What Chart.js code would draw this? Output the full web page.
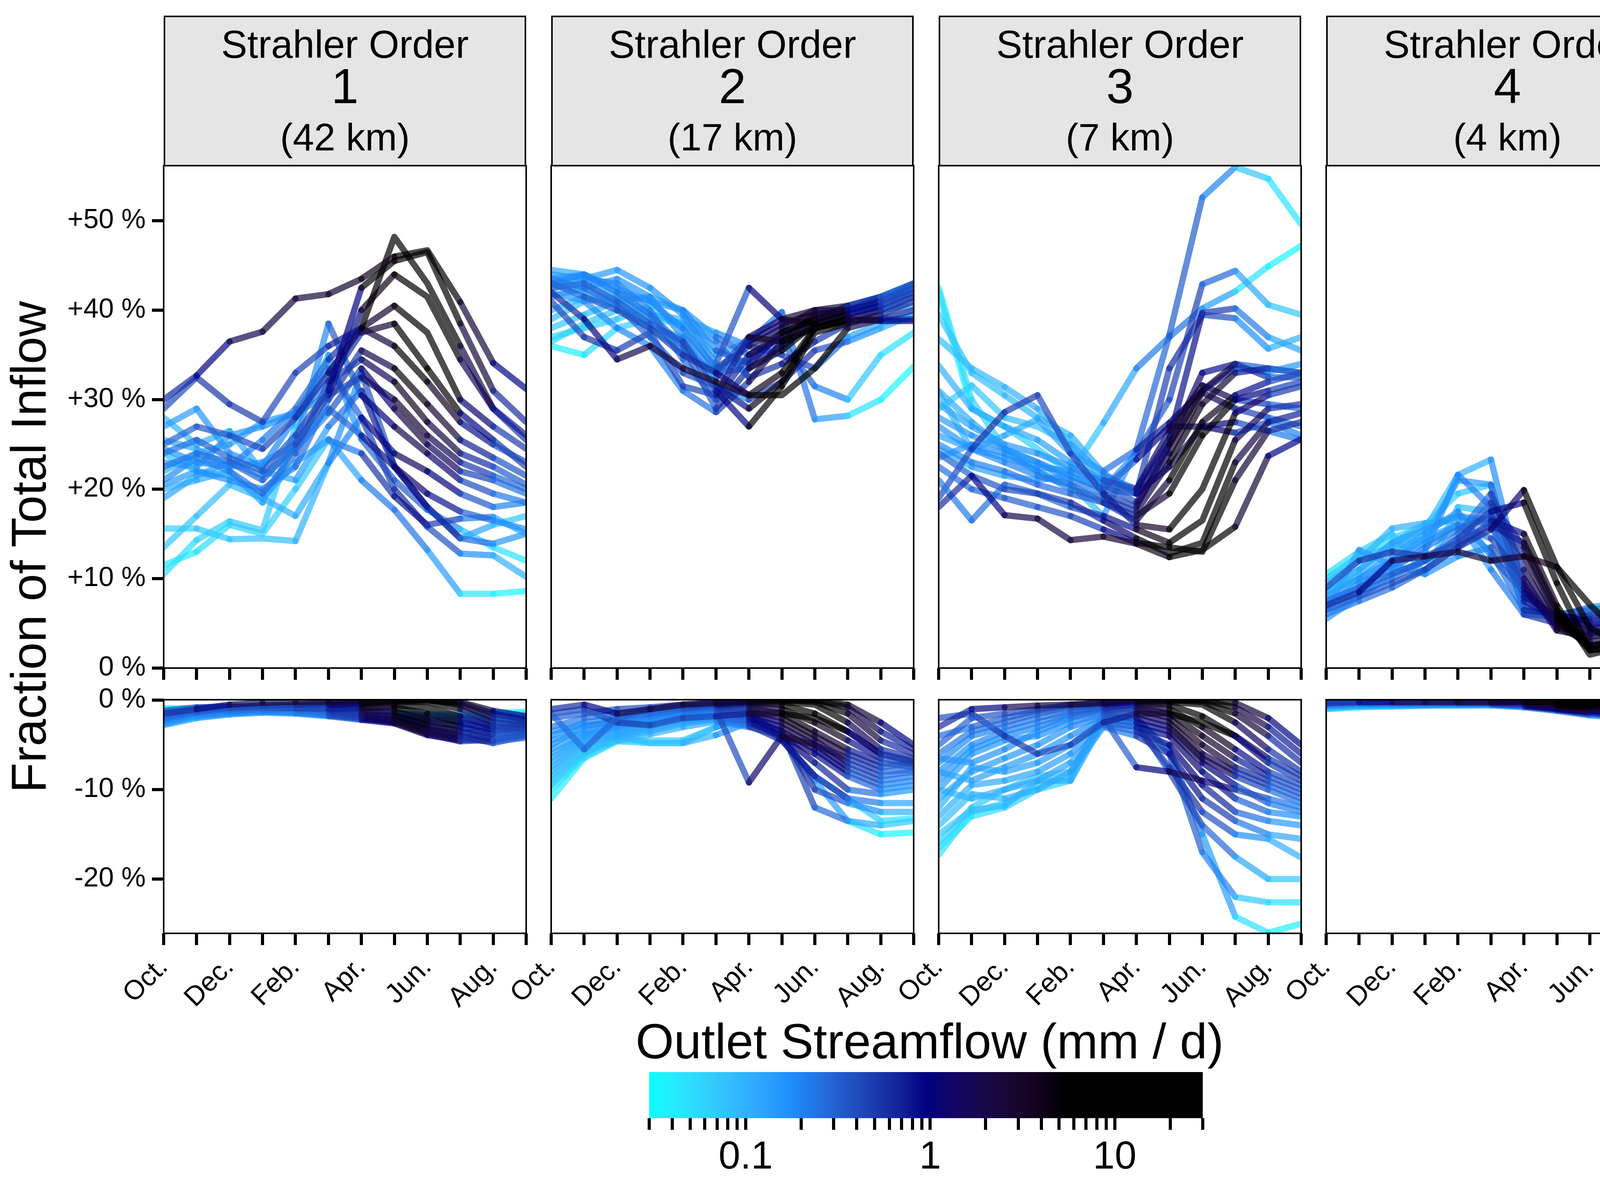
<!DOCTYPE html>
<html>
<head>
<meta charset="utf-8">
<title>Fraction of Total Inflow by Strahler Order</title>
<script src="https://cdn.jsdelivr.net/npm/chart.js"></script>
<style>
  html, body { margin: 0; padding: 0; background: #fff; }
  body { width: 4517px; height: 3028px; position: relative; overflow: hidden;
         font-family: "Liberation Sans", Arial, Helvetica, sans-serif; color: #000; }
  canvas { position: absolute; }
  .strip { position: absolute; box-sizing: border-box; background: #e5e5e5; border: 4px solid #000; }
  .strip span { position: absolute; left: 0; right: 0; text-align: center; white-space: nowrap; }
  .side { position: absolute; box-sizing: border-box; background: #e5e5e5; border: 4px solid #000;
          display: flex; align-items: center; justify-content: center; }
  .side span { writing-mode: vertical-rl; font-size: 126px; line-height: 1; white-space: nowrap; }
  .title { position: absolute; white-space: nowrap; line-height: 1; }
</style>
</head>
<body>
<div class="title" id="ytitle" style="font-size:126px;">Fraction of Total Inflow</div>
<div class="title" id="ctitle" style="font-size:126px;">Outlet Streamflow (mm / d)</div>
<script>
// ---- data -------------------------------------------------------------
const months = ['Oct', 'Nov', 'Dec', 'Jan', 'Feb', 'Mar', 'Apr', 'May', 'Jun', 'Jul', 'Aug', 'Sep'];
const monthTickLabels = ['Oct.', '', 'Dec.', '', 'Feb.', '', 'Apr.', '', 'Jun.', '', 'Aug.', ''];
const strahlerOrders = ['1', '2', '3', '4'];
const orderLengths = ['(42 km)', '(17 km)', '(7 km)', '(4 km)'];
const rowNames = ['Inflow', 'Recharge'];

// outlet streamflow (mm/d) per year and month, colours the line segments
const outletFlow = [
  [0.60, 0.90, 1.80, 2.20, 2.50, 3.00, 4.00, 9.00, 14.0, 2.50, 0.90, 0.60],
  [0.30, 0.35, 0.40, 0.45, 0.60, 1.20, 7.00, 24.0, 20.0, 2.00, 0.70, 0.45],
  [0.25, 0.30, 0.32, 0.35, 0.45, 0.90, 5.00, 20.0, 24.0, 2.50, 0.60, 0.38],
  [0.22, 0.25, 0.28, 0.30, 0.40, 0.80, 4.00, 14.0, 12.0, 1.50, 0.55, 0.33],
  [0.40, 0.55, 0.50, 0.42, 0.45, 0.70, 3.00, 10.0, 7.00, 1.20, 0.50, 0.30],
  [0.18, 0.20, 0.24, 0.26, 0.32, 0.60, 2.50, 8.00, 5.00, 0.90, 0.45, 0.27],
  [0.16, 0.18, 0.20, 0.22, 0.28, 0.55, 2.20, 6.00, 3.50, 0.80, 0.40, 0.24],
  [0.15, 0.17, 0.19, 0.20, 0.25, 0.50, 1.80, 4.50, 2.80, 0.70, 0.36, 0.22],
  [0.14, 0.16, 0.17, 0.18, 0.22, 0.45, 1.50, 3.50, 2.20, 0.60, 0.32, 0.20],
  [0.13, 0.15, 0.16, 0.17, 0.20, 0.40, 1.30, 2.80, 1.80, 0.50, 0.28, 0.18],
  [0.12, 0.14, 0.15, 0.16, 0.19, 0.36, 1.10, 2.20, 1.50, 0.45, 0.25, 0.16],
  [0.11, 0.13, 0.14, 0.15, 0.18, 0.33, 1.00, 1.80, 1.20, 0.40, 0.22, 0.15],
  [0.10, 0.12, 0.13, 0.14, 0.16, 0.30, 0.90, 1.50, 1.00, 0.35, 0.20, 0.13],
  [0.10, 0.11, 0.12, 0.13, 0.15, 0.28, 0.80, 1.20, 0.80, 0.30, 0.17, 0.12],
  [0.09, 0.10, 0.11, 0.12, 0.14, 0.25, 0.70, 1.00, 0.65, 0.26, 0.15, 0.10],
  [0.08, 0.09, 0.10, 0.11, 0.13, 0.22, 0.55, 0.80, 0.50, 0.22, 0.12, 0.09],
  [0.07, 0.08, 0.09, 0.10, 0.11, 0.20, 0.45, 0.60, 0.38, 0.17, 0.10, 0.075],
  [0.06, 0.07, 0.08, 0.08, 0.10, 0.17, 0.35, 0.45, 0.28, 0.12, 0.07, 0.055],
  [0.05, 0.06, 0.07, 0.07, 0.08, 0.15, 0.28, 0.32, 0.20, 0.07, 0.045, 0.04],
  [0.04, 0.05, 0.06, 0.06, 0.07, 0.12, 0.22, 0.24, 0.14, 0.045, 0.035, 0.032]
];

// fraction of total inflow (%), one row per year
const inflowOrder1 = [
  [30.0, 32.7, 36.5, 37.6, 41.3, 41.8, 43.5, 46.0, 46.7, 40.9, 34.1, 31.2],
  [25.0, 27.0, 26.0, 24.5, 28.0, 33.0, 38.0, 48.2, 43.0, 36.0, 29.0, 26.0],
  [24.0, 25.5, 23.5, 22.0, 26.0, 31.0, 42.5, 45.5, 46.5, 38.5, 31.0, 27.5],
  [22.5, 24.0, 23.0, 21.0, 25.0, 30.5, 40.0, 44.0, 41.5, 34.5, 29.0, 25.5],
  [29.0, 32.5, 29.5, 27.5, 33.0, 36.0, 38.0, 40.5, 37.5, 30.0, 27.0, 24.5],
  [21.0, 23.5, 22.0, 19.5, 24.0, 32.0, 37.5, 38.5, 33.5, 28.5, 25.5, 22.5],
  [24.5, 23.0, 22.5, 25.5, 29.0, 34.5, 38.0, 36.0, 32.0, 27.5, 25.0, 23.0],
  [20.5, 22.0, 21.0, 20.0, 22.5, 30.0, 35.5, 33.5, 29.5, 25.5, 23.5, 21.5],
  [27.0, 29.0, 24.0, 22.5, 28.0, 32.0, 34.5, 32.0, 27.5, 24.0, 22.5, 20.5],
  [23.0, 22.5, 26.0, 27.0, 28.5, 30.5, 32.5, 30.0, 26.0, 23.0, 21.5, 20.0],
  [19.0, 21.5, 23.0, 21.5, 24.5, 28.5, 33.5, 29.0, 25.0, 22.0, 21.0, 19.5],
  [25.5, 24.5, 22.5, 23.0, 25.0, 38.5, 30.5, 27.0, 24.0, 21.0, 19.5, 18.5],
  [22.0, 24.0, 25.0, 27.5, 28.5, 33.5, 28.0, 24.0, 22.0, 19.5, 18.0, 18.5],
  [20.0, 21.0, 22.0, 18.5, 25.0, 29.0, 26.0, 22.5, 19.5, 17.5, 16.5, 15.5],
  [28.0, 25.0, 26.5, 22.0, 21.0, 27.0, 31.0, 22.5, 18.0, 14.5, 13.9, 15.0],
  [24.0, 22.0, 21.5, 19.0, 23.0, 25.5, 24.0, 19.2, 16.0, 16.7, 16.9, 15.0],
  [13.5, 17.0, 20.5, 19.0, 17.0, 22.9, 28.0, 20.0, 15.8, 12.8, 12.6, 10.2],
  [15.6, 15.6, 14.4, 14.5, 14.2, 22.9, 33.0, 22.6, 18.0, 14.5, 16.0, 17.0],
  [10.5, 14.3, 16.4, 15.4, 27.0, 35.0, 25.6, 21.0, 17.7, 15.5, 13.5, 12.0],
  [11.5, 13.0, 16.0, 15.0, 20.0, 25.6, 21.0, 17.7, 13.2, 8.3, 8.3, 8.6]
];
const inflowOrder2 = [
  [42.0, 39.0, 34.5, 36.0, 33.5, 32.0, 30.5, 33.0, 38.0, 39.0, 38.8, 38.8],
  [43.0, 41.5, 40.0, 38.0, 35.0, 33.0, 30.5, 30.5, 33.5, 38.0, 39.0, 40.0],
  [42.5, 43.0, 41.0, 38.5, 36.5, 31.0, 27.0, 31.5, 37.5, 38.5, 39.5, 41.0],
  [43.5, 42.5, 40.5, 37.0, 33.0, 31.5, 29.0, 32.0, 38.0, 39.0, 40.0, 41.5],
  [41.0, 37.0, 35.5, 37.5, 31.5, 30.5, 37.0, 36.5, 38.0, 38.8, 39.0, 39.0],
  [43.0, 44.0, 42.0, 39.5, 36.0, 29.0, 33.5, 35.5, 38.5, 39.5, 40.5, 42.0],
  [44.0, 43.5, 43.0, 40.0, 34.5, 30.0, 35.0, 37.5, 39.0, 40.0, 41.0, 42.5],
  [42.0, 41.0, 38.0, 36.0, 31.0, 28.6, 32.0, 36.5, 39.5, 40.0, 41.0, 43.0],
  [43.5, 44.0, 42.5, 41.0, 38.0, 33.5, 36.0, 38.0, 40.0, 40.5, 41.5, 43.0],
  [41.5, 42.5, 43.5, 41.5, 37.0, 33.0, 37.0, 39.0, 40.0, 40.0, 41.0, 42.0],
  [43.0, 43.5, 44.5, 42.5, 39.5, 34.0, 42.5, 39.0, 38.5, 39.5, 40.5, 42.5],
  [44.5, 44.0, 42.0, 41.0, 40.0, 35.5, 34.0, 37.5, 39.0, 40.0, 41.5, 43.0],
  [42.5, 43.0, 41.5, 39.0, 36.0, 32.5, 36.5, 38.5, 39.5, 40.0, 41.5, 42.5],
  [43.0, 42.0, 41.0, 41.5, 40.0, 37.0, 35.0, 37.0, 39.0, 40.5, 41.5, 43.0],
  [40.0, 41.5, 40.5, 38.0, 35.5, 33.0, 33.5, 36.0, 38.5, 39.5, 40.5, 41.5],
  [39.0, 41.0, 41.5, 39.5, 38.5, 36.5, 32.5, 34.0, 36.5, 38.5, 40.0, 40.5],
  [38.0, 39.5, 41.0, 38.0, 37.0, 31.5, 30.0, 32.0, 35.5, 36.5, 38.0, 39.5],
  [36.5, 38.5, 40.0, 39.5, 39.0, 37.5, 36.0, 35.0, 33.5, 37.0, 38.5, 39.5],
  [37.0, 38.0, 39.0, 40.5, 38.0, 33.5, 34.5, 36.5, 31.5, 30.0, 35.0, 37.5],
  [36.0, 35.0, 38.0, 39.0, 38.5, 35.0, 36.5, 39.8, 27.8, 28.2, 30.0, 33.7]
];
const inflowOrder3 = [
  [18.0, 21.5, 17.1, 16.7, 14.3, 14.7, 13.9, 12.4, 13.2, 15.8, 23.7, 25.6],
  [24.0, 21.5, 20.0, 19.5, 18.5, 16.5, 14.5, 12.8, 14.0, 23.0, 27.5, 28.5],
  [22.5, 20.0, 19.0, 18.0, 17.0, 15.5, 14.0, 13.5, 13.0, 21.0, 26.5, 27.5],
  [21.0, 16.5, 20.5, 19.5, 18.0, 17.0, 15.5, 14.0, 16.5, 25.5, 29.0, 29.5],
  [19.0, 24.5, 28.6, 30.5, 24.0, 19.5, 16.0, 15.5, 20.0, 28.5, 30.5, 31.5],
  [25.0, 23.0, 22.0, 20.5, 19.5, 18.5, 17.0, 19.5, 26.0, 30.0, 31.0, 32.0],
  [27.0, 24.5, 23.0, 21.5, 20.5, 18.5, 16.5, 21.0, 27.5, 30.5, 32.0, 33.0],
  [23.5, 25.0, 24.0, 22.0, 20.0, 19.0, 17.5, 23.0, 29.5, 33.0, 33.5, 33.0],
  [28.0, 26.0, 24.5, 23.0, 21.0, 19.5, 18.0, 25.0, 31.0, 34.0, 32.5, 32.5],
  [26.0, 24.5, 23.5, 22.5, 22.0, 21.0, 20.0, 26.5, 31.6, 30.0, 29.5, 29.0],
  [29.5, 27.0, 25.0, 24.0, 22.5, 20.5, 18.5, 24.0, 30.8, 29.0, 28.0, 27.0],
  [24.5, 22.5, 21.5, 21.0, 21.5, 20.0, 19.5, 22.5, 27.0, 27.5, 26.5, 25.5],
  [31.0, 27.5, 24.5, 23.0, 21.5, 20.0, 23.3, 27.0, 27.0, 26.3, 27.5, 26.0],
  [33.8, 29.0, 27.0, 25.5, 23.0, 21.0, 19.5, 25.0, 33.0, 34.0, 33.5, 33.0],
  [30.8, 24.4, 26.0, 27.8, 24.0, 22.0, 24.4, 27.4, 31.0, 33.5, 33.1, 34.0],
  [36.8, 33.5, 31.4, 29.0, 25.0, 21.5, 20.0, 25.6, 39.7, 40.2, 37.0, 35.5],
  [39.5, 33.0, 30.5, 28.0, 26.0, 21.8, 19.5, 33.5, 39.5, 39.1, 35.7, 37.0],
  [29.0, 31.6, 28.0, 27.0, 25.0, 20.0, 24.0, 30.0, 42.9, 44.4, 40.6, 39.5],
  [42.5, 30.0, 24.5, 22.0, 20.5, 17.0, 24.4, 37.2, 52.6, 56.0, 54.7, 49.6],
  [42.0, 29.0, 27.0, 24.5, 21.8, 27.4, 33.5, 37.0, 40.2, 42.1, 44.9, 47.2]
];
const inflowOrder4 = [
  [7.0, 8.5, 12.0, 12.5, 13.0, 12.0, 12.5, 11.3, 4.5, 2.5, 3.0, 4.0],
  [6.5, 8.0, 9.5, 11.0, 13.5, 15.5, 19.9, 11.3, 7.1, 3.5, 3.2, 3.8],
  [7.5, 9.0, 10.5, 12.0, 14.5, 17.5, 18.5, 9.5, 2.0, 2.2, 2.8, 3.8],
  [6.0, 7.5, 9.0, 11.0, 13.5, 16.5, 15.0, 7.0, 1.5, 2.4, 3.0, 3.5],
  [9.0, 12.0, 13.0, 12.5, 14.0, 16.0, 14.0, 6.5, 2.5, 2.8, 3.5, 4.5],
  [6.5, 8.5, 10.0, 12.0, 14.0, 18.5, 13.5, 6.0, 2.0, 2.6, 3.3, 4.2],
  [7.0, 9.5, 11.0, 13.5, 15.5, 17.0, 12.5, 5.5, 2.3, 3.0, 3.6, 4.6],
  [5.5, 8.0, 10.5, 12.0, 15.0, 19.5, 11.0, 5.0, 2.5, 3.2, 4.0, 5.0],
  [8.0, 10.0, 12.0, 14.0, 16.0, 14.5, 10.0, 4.5, 3.0, 3.5, 4.3, 5.3],
  [7.5, 9.0, 11.5, 13.0, 21.6, 18.0, 9.5, 4.2, 3.5, 4.0, 4.6, 5.6],
  [6.5, 13.2, 11.5, 10.5, 12.5, 13.5, 9.0, 4.8, 3.8, 4.3, 5.0, 5.8],
  [8.5, 10.0, 12.5, 15.0, 17.5, 12.5, 8.5, 5.5, 4.0, 4.5, 5.2, 6.0],
  [9.0, 11.0, 14.0, 15.5, 17.0, 16.0, 8.0, 5.8, 4.5, 4.9, 5.5, 6.3],
  [7.0, 9.0, 12.0, 14.5, 21.0, 20.5, 7.5, 5.5, 4.8, 5.3, 5.8, 6.5],
  [8.0, 10.5, 13.5, 14.5, 16.0, 13.0, 6.5, 6.0, 5.2, 5.7, 6.2, 6.8],
  [9.5, 12.0, 15.6, 16.2, 16.5, 11.0, 6.0, 5.0, 5.5, 6.0, 6.5, 7.0],
  [8.5, 11.0, 14.0, 16.0, 17.0, 16.5, 7.0, 5.5, 5.8, 6.4, 6.9, 7.4],
  [10.0, 12.5, 13.5, 15.5, 21.6, 23.3, 8.5, 5.2, 6.0, 6.7, 7.2, 7.6],
  [10.5, 13.0, 15.0, 10.5, 18.0, 17.5, 6.5, 6.0, 6.5, 7.1, 7.4, 7.9],
  [10.0, 12.0, 14.5, 16.0, 19.5, 20.5, 6.0, 5.8, 6.8, 7.3, 7.6, 8.2]
];
const rechargeOrder1 = [
  [-1.5, -1.0, -0.5, -0.3, -0.2, -0.2, -0.1, 0.0, 0.0, -0.2, -1.2, -1.8],
  [-1.8, -1.2, -0.8, -0.6, -0.5, -0.3, -0.2, 0.0, 0.0, -0.3, -1.5, -2.2],
  [-2.0, -1.3, -0.9, -0.7, -0.6, -0.5, -0.3, -0.1, 0.0, -0.5, -2.0, -2.5],
  [-2.2, -1.4, -1.0, -0.8, -0.7, -0.6, -0.5, -0.2, -0.2, -1.0, -2.5, -2.8],
  [-1.2, -0.8, -0.7, -0.8, -0.9, -1.0, -0.9, -0.6, -0.8, -1.8, -3.0, -3.0],
  [-2.4, -1.5, -1.2, -1.0, -0.9, -0.9, -0.9, -0.8, -1.5, -2.5, -3.3, -3.2],
  [-2.3, -1.6, -1.3, -1.1, -1.0, -1.1, -1.2, -1.3, -2.2, -3.0, -3.8, -3.5],
  [-2.6, -1.7, -1.2, -1.1, -1.2, -1.3, -1.6, -1.8, -2.8, -3.5, -4.5, -3.8],
  [-2.5, -1.8, -1.4, -1.2, -1.3, -1.5, -1.8, -2.2, -3.3, -4.0, -4.8, -4.0],
  [-2.7, -1.9, -1.5, -1.3, -1.4, -1.7, -2.0, -2.4, -3.6, -4.4, -4.6, -4.2],
  [-2.2, -1.6, -1.3, -1.2, -1.3, -1.6, -2.0, -2.5, -3.8, -4.6, -4.4, -3.9],
  [-2.8, -2.0, -1.6, -1.4, -1.5, -1.8, -2.2, -2.6, -3.9, -4.5, -4.0, -3.6],
  [-2.4, -1.8, -1.5, -1.3, -1.4, -1.7, -2.1, -2.4, -3.5, -4.2, -3.6, -3.3],
  [-2.0, -1.7, -1.3, -1.2, -1.3, -1.6, -2.0, -2.3, -3.2, -3.8, -3.2, -3.0],
  [-1.8, -1.5, -1.2, -1.1, -1.2, -1.5, -1.9, -2.2, -2.9, -3.3, -2.8, -2.7],
  [-1.5, -1.4, -1.1, -1.0, -1.1, -1.4, -1.8, -2.0, -2.5, -2.8, -2.4, -2.3],
  [-1.4, -1.3, -1.0, -0.9, -1.0, -1.3, -1.6, -1.8, -2.2, -2.4, -2.1, -2.0],
  [-1.2, -1.1, -0.9, -0.8, -0.9, -1.2, -1.5, -1.7, -2.0, -2.1, -1.8, -1.8],
  [-1.0, -1.0, -0.8, -0.7, -0.8, -1.1, -1.4, -1.5, -1.8, -1.8, -1.6, -1.5],
  [-0.9, -0.9, -0.7, -0.6, -0.7, -1.0, -1.3, -1.4, -1.6, -1.6, -1.4, -1.3]
];
const rechargeOrder2 = [
  [-1.0, -0.5, -1.5, -1.0, -0.5, -0.3, -0.2, 0.0, 0.0, -0.5, -2.5, -5.0],
  [-2.0, -1.5, -1.0, -0.8, -0.5, -0.3, 0.0, 0.0, 0.0, -0.8, -3.5, -5.5],
  [-1.5, -5.5, -2.0, -1.0, -0.6, -0.4, -0.1, 0.0, -0.2, -1.5, -4.5, -6.0],
  [-3.0, -2.0, -1.5, -1.2, -0.8, -0.5, -0.3, -0.2, -0.5, -2.5, -5.5, -6.5],
  [-1.5, -1.0, -2.5, -2.8, -2.0, -1.8, -1.5, -1.5, -2.0, -3.5, -6.0, -6.8],
  [-4.0, -2.5, -2.0, -1.5, -1.0, -0.6, -0.4, -0.5, -1.5, -3.5, -6.0, -7.0],
  [-5.0, -3.0, -2.2, -1.6, -1.0, -0.7, -0.6, -1.0, -2.5, -4.5, -6.5, -7.2],
  [-3.5, -2.8, -2.5, -1.8, -1.2, -0.8, -0.9, -1.5, -3.5, -5.5, -7.0, -7.5],
  [-4.5, -3.5, -2.6, -2.0, -1.3, -1.0, -1.2, -2.0, -4.0, -6.0, -7.5, -7.0],
  [-5.5, -3.8, -2.8, -2.1, -1.5, -1.1, -9.2, -4.0, -5.0, -6.5, -8.0, -7.8],
  [-6.0, -4.0, -3.0, -2.3, -1.6, -1.2, -1.5, -2.5, -4.5, -7.0, -8.5, -8.0],
  [-6.5, -4.2, -3.2, -2.5, -1.8, -1.4, -1.8, -3.0, -5.0, -7.5, -9.0, -8.5],
  [-7.0, -4.5, -3.5, -2.8, -2.0, -1.5, -2.0, -3.5, -5.5, -8.0, -9.5, -9.0],
  [-7.5, -4.8, -3.8, -3.0, -2.2, -1.8, -2.3, -4.0, -6.0, -8.5, -10.0, -9.5],
  [-8.0, -5.0, -4.0, -3.2, -2.4, -2.0, -2.5, -4.0, -7.0, -10.0, -10.5, -10.0],
  [-8.5, -5.5, -4.2, -3.5, -2.6, -2.2, -2.8, -4.5, -8.5, -11.0, -11.5, -11.5],
  [-9.0, -5.8, -4.5, -3.8, -3.0, -2.4, -3.0, -4.0, -10.0, -11.5, -12.5, -12.5],
  [-9.5, -6.0, -4.0, -4.8, -4.8, -3.9, -2.5, -3.5, -12.0, -13.5, -14.0, -13.5],
  [-10.0, -6.3, -4.5, -4.5, -4.5, -3.0, -2.0, -4.5, -8.5, -11.0, -13.5, -13.2],
  [-11.0, -6.5, -4.6, -4.8, -4.8, -3.0, -1.5, -4.0, -9.0, -13.5, -15.0, -14.8]
];
const rechargeOrder3 = [
  [-3.0, -1.0, -0.8, -0.6, -0.5, -0.3, 0.0, 0.0, 0.0, -0.3, -2.0, -5.0],
  [-5.0, -2.0, -1.5, -1.0, -0.5, -0.3, 0.0, 0.0, 0.0, -0.8, -3.0, -6.0],
  [-4.0, -3.0, -2.0, -1.2, -0.6, -0.4, -0.1, 0.0, -0.2, -1.5, -4.0, -7.0],
  [-6.0, -3.5, -2.5, -1.5, -0.8, -0.5, -0.2, -0.2, -0.5, -2.5, -5.5, -8.0],
  [-2.0, -1.5, -4.0, -6.0, -5.0, -2.5, -1.5, -1.5, -2.5, -4.0, -6.5, -8.5],
  [-7.0, -4.0, -3.0, -2.0, -1.2, -0.8, -0.4, -0.5, -1.8, -4.0, -7.0, -9.0],
  [-8.0, -5.0, -3.5, -2.5, -1.5, -0.9, -0.5, -1.0, -3.0, -5.5, -8.0, -9.5],
  [-9.0, -5.5, -4.0, -3.0, -1.8, -1.0, -0.8, -1.5, -4.0, -6.5, -8.5, -10.0],
  [-6.5, -7.0, -5.5, -3.5, -2.0, -1.2, -1.0, -2.0, -5.0, -7.5, -9.0, -10.5],
  [-10.0, -6.0, -4.5, -4.0, -2.5, -1.5, -1.5, -2.5, -6.0, -8.0, -9.5, -11.0],
  [-11.0, -8.0, -6.5, -5.0, -3.0, -1.8, -2.0, -3.0, -6.5, -8.5, -10.0, -11.5],
  [-8.0, -9.0, -7.5, -6.0, -4.0, -2.0, -7.5, -8.0, -9.0, -10.0, -11.0, -12.0],
  [-12.0, -7.5, -8.0, -7.0, -5.0, -2.2, -2.5, -3.5, -7.0, -9.5, -11.5, -12.5],
  [-13.0, -9.5, -9.0, -8.0, -6.0, -2.5, -3.0, -4.0, -8.0, -11.0, -12.5, -13.0],
  [-10.0, -11.0, -10.0, -9.0, -7.0, -2.8, -3.5, -5.0, -9.5, -12.5, -13.5, -14.0],
  [-14.0, -10.5, -11.0, -10.0, -8.0, -3.0, -4.0, -6.0, -11.0, -13.5, -15.0, -15.5],
  [-15.0, -12.3, -11.8, -9.0, -9.0, -2.5, -3.0, -7.5, -12.5, -15.0, -15.5, -17.6],
  [-16.0, -12.0, -10.0, -8.5, -8.0, -2.0, -2.5, -8.0, -14.0, -17.5, -20.0, -20.0],
  [-17.3, -12.5, -11.5, -9.5, -8.5, -1.5, -2.0, -6.0, -17.0, -22.0, -22.6, -22.6],
  [-16.5, -13.0, -12.0, -10.0, -9.0, -1.8, -2.2, -5.5, -15.0, -24.2, -26.0, -25.0]
];
const rechargeOrder4 = [
  [-0.3, -0.2, -0.2, -0.2, -0.2, -0.2, -0.1, 0.0, 0.0, -0.1, -0.3, -0.4],
  [-0.4, -0.3, -0.2, -0.2, -0.2, -0.2, -0.1, -0.1, -0.1, -0.3, -0.5, -0.5],
  [-0.4, -0.3, -0.3, -0.2, -0.2, -0.2, -0.2, -0.1, -0.2, -0.4, -0.6, -0.6],
  [-0.5, -0.3, -0.3, -0.3, -0.2, -0.2, -0.2, -0.2, -0.3, -0.5, -0.6, -0.7],
  [-0.3, -0.3, -0.3, -0.3, -0.3, -0.3, -0.3, -0.3, -0.4, -0.6, -0.7, -0.7],
  [-0.5, -0.4, -0.3, -0.3, -0.3, -0.3, -0.3, -0.4, -0.6, -0.7, -0.8, -0.8],
  [-0.5, -0.4, -0.4, -0.3, -0.3, -0.3, -0.3, -0.5, -0.7, -0.8, -0.9, -0.9],
  [-0.6, -0.4, -0.4, -0.4, -0.3, -0.3, -0.4, -0.6, -0.8, -0.9, -1.0, -1.0],
  [-0.6, -0.5, -0.4, -0.4, -0.4, -0.4, -0.4, -0.7, -0.9, -1.0, -1.0, -1.0],
  [-0.6, -0.5, -0.4, -0.4, -0.4, -0.4, -0.5, -0.7, -1.0, -1.1, -1.1, -1.1],
  [-0.7, -0.5, -0.5, -0.4, -0.4, -0.4, -0.5, -0.8, -1.0, -1.2, -1.2, -1.1],
  [-0.7, -0.5, -0.5, -0.5, -0.4, -0.4, -0.5, -0.8, -1.1, -1.3, -1.3, -1.2],
  [-0.7, -0.6, -0.5, -0.5, -0.4, -0.4, -0.6, -0.9, -1.2, -1.4, -1.4, -1.3],
  [-0.8, -0.6, -0.5, -0.5, -0.5, -0.5, -0.6, -0.9, -1.2, -1.5, -1.5, -1.4],
  [-0.8, -0.6, -0.6, -0.5, -0.5, -0.5, -0.6, -1.0, -1.3, -1.6, -1.6, -1.5],
  [-0.8, -0.6, -0.6, -0.5, -0.5, -0.5, -0.6, -1.0, -1.4, -1.7, -1.7, -1.6],
  [-0.9, -0.7, -0.6, -0.6, -0.5, -0.5, -0.7, -1.0, -1.4, -1.8, -1.8, -1.7],
  [-0.9, -0.7, -0.6, -0.6, -0.5, -0.5, -0.7, -1.1, -1.5, -1.9, -1.9, -1.8],
  [-1.0, -0.7, -0.7, -0.6, -0.6, -0.5, -0.7, -1.1, -1.6, -1.9, -2.0, -1.9],
  [-1.0, -0.8, -0.7, -0.6, -0.6, -0.6, -0.8, -1.2, -1.7, -2.0, -2.0, -1.9]
];

// colour scale for the outlet streamflow
const colourFlows = [0.03, 0.17, 0.95, 5.3, 30];
const colourHexes = ['#00ffff', '#1e90ff', '#000080', '#000000', '#000000'];
const colourbarTicks = [0.03, 0.04, 0.05, 0.06, 0.07, 0.08, 0.09, 0.1, 0.2, 0.3, 0.4, 0.5, 0.6, 0.7, 0.8, 0.9,
                        1, 2, 3, 4, 5, 6, 7, 8, 9, 10, 20, 30];
const colourbarLabels = { 0.1: '0.1', 1: '1', 10: '10' };

// ---- colour helpers (interpolate in Lab like ggplot does) ----
function hexToRgb(h) {
  return [parseInt(h.slice(1, 3), 16), parseInt(h.slice(3, 5), 16), parseInt(h.slice(5, 7), 16)];
}
function toLin(c) { c /= 255; return c <= 0.04045 ? c / 12.92 : Math.pow((c + 0.055) / 1.055, 2.4); }
function fromLin(c) {
  c = c <= 0.0031308 ? 12.92 * c : 1.055 * Math.pow(c, 1 / 2.4) - 0.055;
  return Math.round(Math.max(0, Math.min(1, c)) * 255);
}
function rgbToLab(rgb) {
  const R = toLin(rgb[0]), G = toLin(rgb[1]), B = toLin(rgb[2]);
  const X = (0.4124 * R + 0.3576 * G + 0.1805 * B) / 0.95047;
  const Y = 0.2126 * R + 0.7152 * G + 0.0722 * B;
  const Z = (0.0193 * R + 0.1192 * G + 0.9505 * B) / 1.08883;
  const f = t => t > 0.008856 ? Math.cbrt(t) : 7.787 * t + 16 / 116;
  return [116 * f(Y) - 16, 500 * (f(X) - f(Y)), 200 * (f(Y) - f(Z))];
}
function labToRgb(lab) {
  const fy = (lab[0] + 16) / 116, fx = fy + lab[1] / 500, fz = fy - lab[2] / 200;
  const fi = t => t * t * t > 0.008856 ? t * t * t : (t - 16 / 116) / 7.787;
  const X = fi(fx) * 0.95047, Y = fi(fy), Z = fi(fz) * 1.08883;
  return [fromLin(3.2406 * X - 1.5372 * Y - 0.4986 * Z),
          fromLin(-0.9689 * X + 1.8758 * Y + 0.0415 * Z),
          fromLin(0.0557 * X - 0.2040 * Y + 1.0570 * Z)];
}
const stopLogs = colourFlows.map(Math.log10);
const stopLabs = colourHexes.map(h => rgbToLab(hexToRgb(h)));
function flowColour(q, alpha) {
  let lq = Math.log10(Math.min(Math.max(q, colourFlows[0]), colourFlows[colourFlows.length - 1]));
  let i = 0;
  while (i < stopLogs.length - 2 && lq > stopLogs[i + 1]) i++;
  const t = (lq - stopLogs[i]) / (stopLogs[i + 1] - stopLogs[i]);
  const a = stopLabs[i], b = stopLabs[i + 1];
  const rgb = labToRgb([a[0] + (b[0] - a[0]) * t, a[1] + (b[1] - a[1]) * t, a[2] + (b[2] - a[2]) * t]);
  return 'rgba(' + rgb[0] + ',' + rgb[1] + ',' + rgb[2] + ',' + alpha + ')';
}

// ---- layout -----------------------------------------------------------
const FONT = '"Liberation Sans", Arial, Helvetica, sans-serif';
Chart.defaults.font.family = FONT;
Chart.defaults.color = '#000';

const colLeft = [419, 1411, 2403, 3395];
const panelW = 928;
const PAD_L = 330, PAD_T = 60, PAD_R = 20;
const LINE_ALPHA = 0.7;
const rows = [
  { top: 424, h: 1286, min: 0, max: 56.16, padB: 50, showX: false,
    data: [inflowOrder1, inflowOrder2, inflowOrder3, inflowOrder4] },
  { top: 1791, h: 598, min: -26.07, max: 0.05, padB: 330, showX: true,
    data: [rechargeOrder1, rechargeOrder2, rechargeOrder3, rechargeOrder4] }
];

const panelFrame = {
  id: 'panelFrame',
  afterDatasetsDraw(chart) {
    const { ctx, chartArea: a } = chart;
    ctx.save();
    ctx.strokeStyle = '#000';
    ctx.lineWidth = 4;
    ctx.strokeRect(a.left, a.top, a.right - a.left, a.bottom - a.top);
    ctx.restore();
  }
};

function addCanvas(left, top, w, h) {
  const c = document.createElement('canvas');
  c.width = w; c.height = h;
  c.style.left = left + 'px'; c.style.top = top + 'px';
  c.style.width = w + 'px'; c.style.height = h + 'px';
  document.body.appendChild(c);
  return c;
}

rows.forEach((row, r) => {
  colLeft.forEach((left, col) => {
    const values = row.data[col];
    const canvas = addCanvas(left - PAD_L, row.top - PAD_T, panelW + PAD_L + PAD_R, PAD_T + row.h + row.padB);
    const datasets = values.map((series, i) => ({
      data: series,
      borderWidth: 16,
      borderCapStyle: 'round',
      borderJoinStyle: 'round',
      borderColor: flowColour(outletFlow[i][0], LINE_ALPHA),
      segment: { borderColor: ctx => flowColour(outletFlow[i][ctx.p0DataIndex], LINE_ALPHA) },
      pointRadius: 0,
      fill: false,
      tension: 0,
      clip: 0
    }));
    new Chart(canvas, {
      type: 'line',
      data: { labels: months, datasets },
      plugins: [panelFrame],
      options: {
        responsive: false,
        animation: false,
        events: [],
        layout: { padding: { left: 0, top: PAD_T, right: PAD_R, bottom: 0 } },
        plugins: { legend: { display: false }, tooltip: { enabled: false } },
        scales: {
          x: {
            type: 'category',
            offset: false,
            border: { display: false },
            grid: { display: true, drawOnChartArea: false, drawTicks: true,
                    tickLength: 30, tickWidth: 8, lineWidth: 8, tickColor: '#000', color: '#000' },
            ticks: {
              display: row.showX, autoSkip: false, minRotation: 45, maxRotation: 45,
              padding: 16, font: { size: 70 }, color: '#000',
              callback: (v, i) => monthTickLabels[i]
            },
            afterFit: s => { s.height = row.padB; s.paddingLeft = 0; s.paddingRight = 0; }
          },
          y: {
            type: 'linear',
            min: row.min, max: row.max,
            border: { display: false },
            grid: { display: col === 0, drawOnChartArea: false, drawTicks: true,
                    tickLength: 30, tickWidth: 8, lineWidth: 8, tickColor: '#000', color: '#000' },
            ticks: {
              display: col === 0, stepSize: 10, includeBounds: false,
              padding: 16, font: { size: 70 }, color: '#000',
              callback: v => (v > 0 ? '+' : '') + v + ' %'
            },
            afterFit: s => { s.width = PAD_L; s.paddingTop = 0; s.paddingBottom = 0; }
          }
        }
      }
    });
  });
});

// ---- facet strips -------------------------------------------------------
colLeft.forEach((left, col) => {
  const d = document.createElement('div');
  d.className = 'strip';
  d.style.left = left + 'px'; d.style.top = '40px';
  d.style.width = panelW + 'px'; d.style.height = '386px';
  d.innerHTML =
    '<span style="top:19px;font-size:100px;line-height:100px">Strahler Order</span>' +
    '<span style="top:114px;font-size:126px;line-height:126px">' + strahlerOrders[col] + '</span>' +
    '<span style="top:258px;font-size:98px;line-height:98px">' + orderLengths[col] + '</span>';
  document.body.appendChild(d);
});
rows.forEach((row, r) => {
  const d = document.createElement('div');
  d.className = 'side';
  d.style.left = '4330px'; d.style.top = row.top + 'px';
  d.style.width = '146px'; d.style.height = row.h + 'px';
  d.innerHTML = '<span>' + rowNames[r] + '</span>';
  document.body.appendChild(d);
});

// ---- axis titles --------------------------------------------------------
const yt = document.getElementById('ytitle');
yt.style.left = '74px'; yt.style.top = '1400px';
yt.style.transform = 'translate(-50%, -50%) rotate(-90deg)';
const ct = document.getElementById('ctitle');
ct.style.left = '2380px'; ct.style.top = '2603px';
ct.style.transform = 'translateX(-50%)';

// ---- colour bar ---------------------------------------------------------
const cbLeft = 1662, cbTop = 2744, cbW = 1417, cbH = 118;
const cbCanvas = addCanvas(cbLeft - 100, cbTop - 10, cbW + 200, cbH + 10 + 160);
const gradientBar = {
  id: 'gradientBar',
  beforeDatasetsDraw(chart) {
    const { ctx, chartArea: a, scales: { x } } = chart;
    ctx.save();
    for (let px = a.left; px < a.right; px += 2) {
      ctx.fillStyle = flowColour(x.getValueForPixel(px + 1), 1);
      ctx.fillRect(px, a.top, Math.min(2.6, a.right - px), a.bottom - a.top);
    }
    ctx.restore();
  }
};
new Chart(cbCanvas, {
  type: 'scatter',
  data: { datasets: [] },
  plugins: [gradientBar],
  options: {
    responsive: false,
    animation: false,
    events: [],
    layout: { padding: { left: 100, right: 100, top: 10, bottom: 0 } },
    plugins: { legend: { display: false }, tooltip: { enabled: false } },
    scales: {
      x: {
        type: 'logarithmic', min: colourFlows[0], max: colourFlows[colourFlows.length - 1],
        border: { display: false },
        grid: { display: true, drawOnChartArea: false, tickLength: 30, tickWidth: 8, lineWidth: 8,
                tickColor: '#000', color: '#000' },
        afterBuildTicks: s => { s.ticks = colourbarTicks.map(v => ({ value: v })); },
        ticks: {
          autoSkip: false, minRotation: 0, maxRotation: 0, padding: 11,
          font: { size: 100 }, color: '#000',
          callback: v => colourbarLabels[v] || ''
        },
        afterFit: s => { s.height = 160; s.paddingLeft = 0; s.paddingRight = 0; }
      },
      y: { display: false, min: 0, max: 1 }
    }
  }
});
</script>
</body>
</html>
